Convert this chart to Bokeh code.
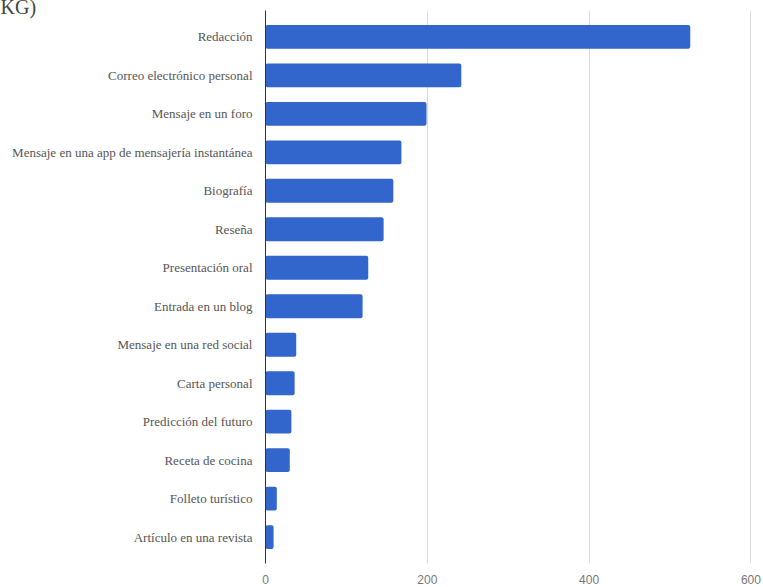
from bokeh.plotting import figure
from bokeh.models import FactorRange, Range1d, Title, FixedTicker
from bokeh.embed import file_html
from bokeh.resources import INLINE

categories = [
    "Redacción",
    "Correo electrónico personal",
    "Mensaje en un foro",
    "Mensaje en una app de mensajería instantánea",
    "Biografía",
    "Reseña",
    "Presentación oral",
    "Entrada en un blog",
    "Mensaje en una red social",
    "Carta personal",
    "Predicción del futuro",
    "Receta de cocina",
    "Folleto turístico",
    "Artículo en una revista",
]
values = [525, 242, 199, 168, 158, 146, 127, 120, 38, 36, 32, 30, 14, 10]
x_ticks = [0, 200, 400, 600]
title_text = "KG)"

p = figure(
    width=762, height=586,
    y_range=FactorRange(factors=list(reversed(categories)),
                        range_padding=0.185, range_padding_units="absolute"),
    x_range=Range1d(0, 614.3),
    output_backend="svg", toolbar_location=None,
    min_border_left=265, min_border_right=0,
    min_border_top=10, min_border_bottom=19,
)
p.outline_line_color = None
p.background_fill_color = "white"
p.border_fill_color = "white"

p.title = Title(text=title_text, align="left", offset=-265, standoff=-14,
                vertical_align="bottom", text_font="Liberation Serif",
                text_font_size="20px", text_font_style="normal",
                text_color="#444444", text_line_height=0.1)

p.hbar(y=categories, right=values, left=0, height=0.62,
       fill_color="#3366cc", line_color=None, border_radius=2)

p.ygrid.grid_line_color = None
p.xgrid.ticker = FixedTicker(ticks=x_ticks[1:])
p.xgrid.grid_line_color = "#d9d9d9"
p.xgrid.grid_line_width = 1

p.xaxis.ticker = FixedTicker(ticks=x_ticks)
p.xaxis.axis_line_color = None
p.xaxis.major_tick_line_color = None
p.xaxis.minor_tick_line_color = None
p.xaxis.major_label_standoff = 5
p.xaxis.major_label_text_font = "Liberation Sans"
p.xaxis.major_label_text_font_size = "12px"
p.xaxis.major_label_text_color = "#777777"

p.yaxis.axis_line_color = "#333333"
p.yaxis.axis_line_width = 1
p.yaxis.major_tick_line_color = None
p.yaxis.minor_tick_line_color = None
p.yaxis.major_label_standoff = 7
p.yaxis.major_label_text_font = "Liberation Serif"
p.yaxis.major_label_text_font_size = "13px"
p.yaxis.major_label_text_color = "#555555"

open("out.html", "w").write(file_html(p, INLINE))
